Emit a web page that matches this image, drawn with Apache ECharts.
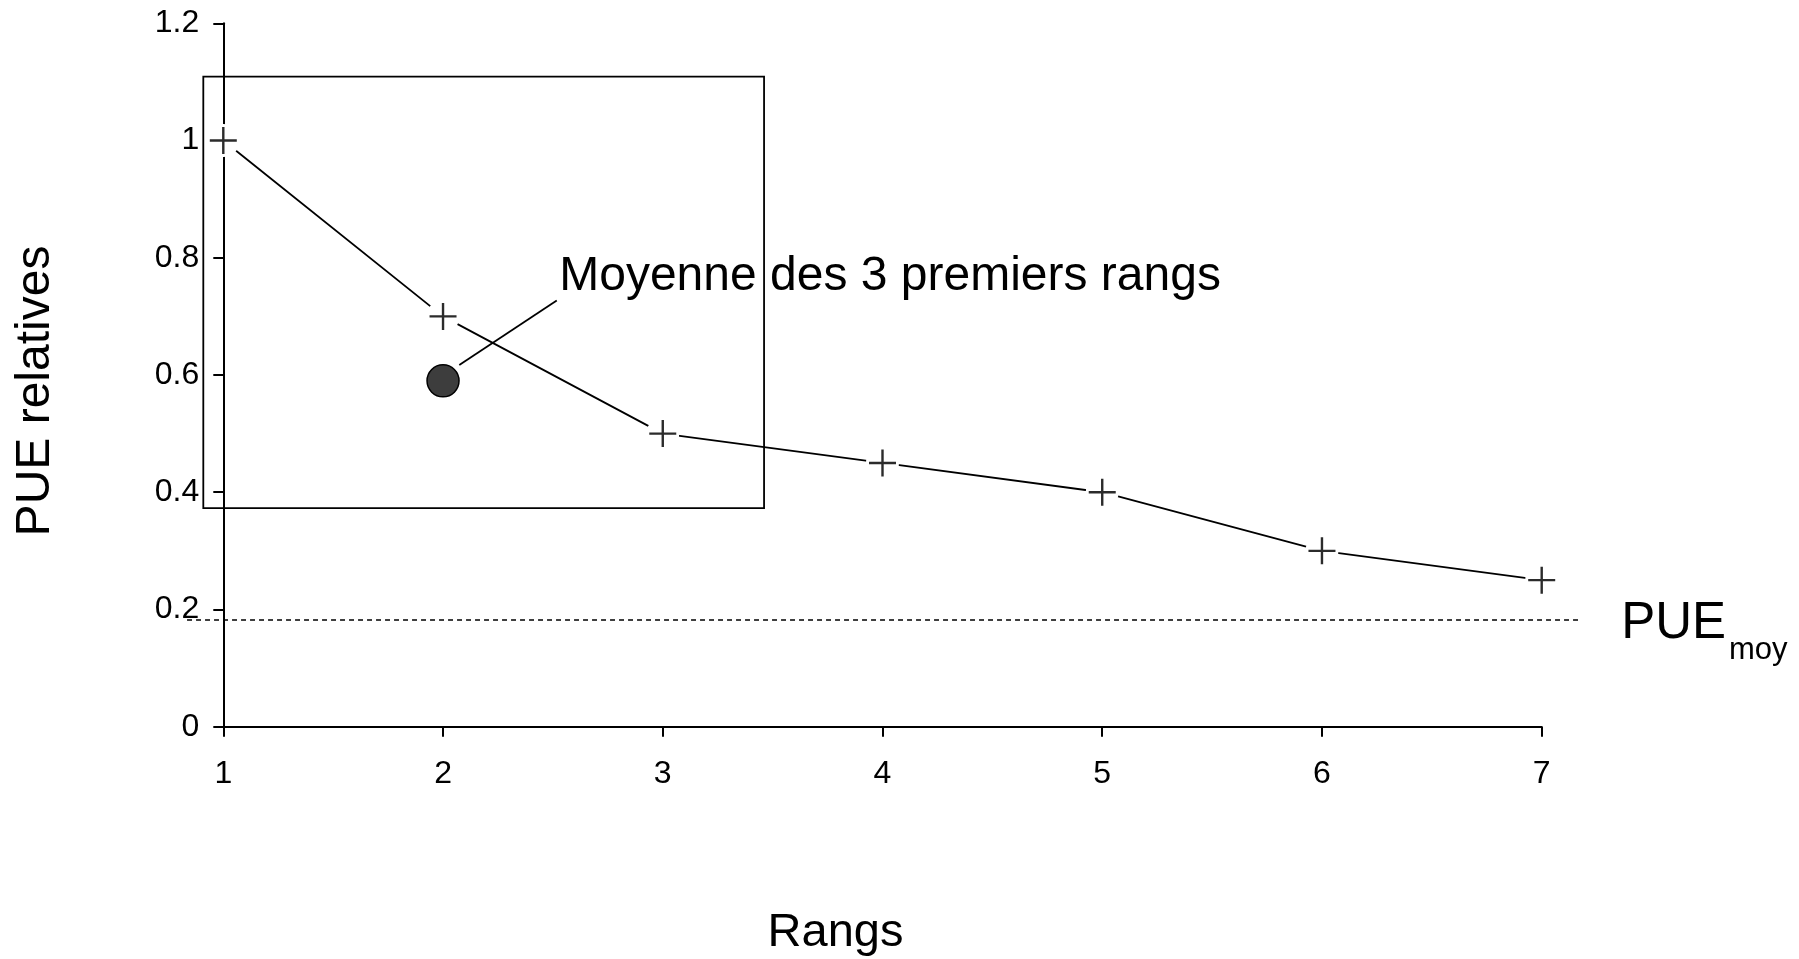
<!DOCTYPE html>
<html>
<head>
<meta charset="utf-8">
<script src="https://cdn.jsdelivr.net/npm/echarts@6/dist/echarts.min.js"></script>
<style>
  html, body { margin: 0; padding: 0; background: #ffffff; }
  #chart { width: 1799px; height: 959px; }
</style>
</head>
<body>
<div id="chart"></div>
<script>
// Rangs (axe X) et PUE relatives (axe Y)
const rangs = [1, 2, 3, 4, 5, 6, 7];
const pueRelatives = [1.0, 0.70, 0.50, 0.45, 0.40, 0.30, 0.25];
const yTickLabels = ['0', '0.2', '0.4', '0.6', '0.8', '1', '1.2'];

// Niveau moyen (ligne pointillée) et son étendue en rangs
const pueMoy = 0.182;
const pueMoyEtendue = [0.835, 7.175];

// Point "Moyenne des 3 premiers rangs"
const moyenne3 = [2, 0.59];
const moyenne3Texte = 'Moyenne des 3 premiers rangs';
const renvoi = [[2.074, 0.617], [2.5175, 0.727]];

// Encadré autour des 3 premiers rangs (en unités des axes)
const encadreX = [0.909, 3.461];
const encadreY = [0.373, 1.109];

const FONT = "'Liberation Sans', Arial, Helvetica, sans-serif";
const points = rangs.map((r, i) => [r, pueRelatives[i]]);
const plusPath = 'path://M0,-1L0,1M-1,0L1,0';

// Conversion données -> pixels, prolongée linéairement hors des bornes des axes
function toPx(api, x, y) {
  const a = api.coord([1, 0]);
  const b = api.coord([7, 1.2]);
  return [
    a[0] + (x - 1) / 6 * (b[0] - a[0]),
    a[1] + y / 1.2 * (b[1] - a[1])
  ];
}

const chart = echarts.init(document.getElementById('chart'), null, { renderer: 'canvas' });

chart.setOption({
  animation: false,
  backgroundColor: '#ffffff',
  textStyle: { fontFamily: FONT, color: '#000' },
  grid: { left: 223.3, right: 257.3, top: 23.3, bottom: 232.3, containLabel: false },
  xAxis: {
    type: 'value', min: 1, max: 7, interval: 1,
    axisLine: { show: true, lineStyle: { color: '#000', width: 2 } },
    axisTick: { show: true, length: 10, lineStyle: { color: '#000', width: 2 } },
    axisLabel: { fontSize: 32, color: '#000', margin: 31, fontFamily: FONT },
    splitLine: { show: false }
  },
  yAxis: {
    type: 'value', min: 0, max: 1.2, interval: 0.2,
    axisLine: { show: true, onZero: false, lineStyle: { color: '#000', width: 2 } },
    axisTick: { show: true, length: 10, lineStyle: { color: '#000', width: 2 } },
    axisLabel: {
      fontSize: 32, color: '#000', margin: 24, fontFamily: FONT,
      formatter: (v) => yTickLabels[Math.round(v / 0.2)]
    },
    splitLine: { show: false }
  },
  graphic: [
    {
      type: 'text', x: 835.5, y: 933, z: 10,
      style: { text: 'Rangs', fontSize: 47, fontFamily: FONT, fill: '#000', textAlign: 'center', textVerticalAlign: 'middle' }
    },
    {
      type: 'text', x: 35.7, y: 391, rotation: Math.PI / 2, z: 10,
      style: { text: 'PUE relatives', fontSize: 48, fontFamily: FONT, fill: '#000', textAlign: 'center', textVerticalAlign: 'middle' }
    }
  ],
  series: [
    {
      // encadré
      type: 'custom', silent: true, clip: false, z: 1,
      data: [[1, 0]],
      renderItem: (params, api) => {
        const p0 = toPx(api, encadreX[0], encadreY[1]);
        const p1 = toPx(api, encadreX[1], encadreY[0]);
        return {
          type: 'rect',
          shape: { x: p0[0], y: p0[1], width: p1[0] - p0[0], height: p1[1] - p0[1] },
          style: { fill: 'none', stroke: '#000', lineWidth: 1.8 }
        };
      }
    },
    {
      // PUE moyenne (pointillés) et son étiquette
      type: 'custom', silent: true, clip: false, z: 1,
      data: [[1, 0]],
      renderItem: (params, api) => {
        const p0 = toPx(api, pueMoyEtendue[0], pueMoy);
        const p1 = toPx(api, pueMoyEtendue[1], pueMoy);
        return {
          type: 'group',
          children: [
            {
              type: 'line',
              shape: { x1: p0[0], y1: p0[1], x2: p1[0], y2: p1[1] },
              style: { stroke: '#000', lineWidth: 1.5, lineDash: [5, 4] }
            },
            {
              type: 'text',
              x: p1[0] + 41, y: p1[1] + 4,
              style: {
                text: '{a|PUE}{b|moy}',
                align: 'left', verticalAlign: 'middle',
                rich: {
                  a: { fontSize: 51, fontFamily: FONT, fill: '#000', lineHeight: 55 },
                  b: { fontSize: 31, fontFamily: FONT, fill: '#000', lineHeight: 31, padding: [52, 0, 0, 3] }
                }
              }
            }
          ]
        };
      }
    },
    {
      // courbe des PUE relatives
      type: 'line', silent: true, clip: false, symbol: 'none', z: 2,
      lineStyle: { color: '#000', width: 1.8 },
      data: points
    },
    {
      // dégagement blanc autour des marqueurs
      type: 'scatter', silent: true, clip: false, z: 3,
      symbol: 'circle', symbolSize: 33,
      itemStyle: { color: '#ffffff', borderWidth: 0, opacity: 1 },
      data: points
    },
    {
      // marqueurs +
      type: 'scatter', silent: true, clip: false, z: 4,
      symbol: plusPath, symbolSize: 27, symbolKeepAspect: true,
      itemStyle: { color: 'transparent', borderColor: '#2b2b2b', borderWidth: 2.4, opacity: 1 },
      data: points
    },
    {
      // trait de renvoi et texte
      type: 'custom', silent: true, clip: false, z: 5,
      data: [[1, 0]],
      renderItem: (params, api) => {
        const p0 = toPx(api, renvoi[0][0], renvoi[0][1]);
        const p1 = toPx(api, renvoi[1][0], renvoi[1][1]);
        return {
          type: 'group',
          children: [
            {
              type: 'line',
              shape: { x1: p0[0], y1: p0[1], x2: p1[0], y2: p1[1] },
              style: { stroke: '#000', lineWidth: 1.8 }
            },
            {
              type: 'text',
              x: p1[0] + 2.5, y: p1[1] - 24,
              style: {
                text: moyenne3Texte, fontSize: 48, fontFamily: FONT, fill: '#000',
                align: 'left', verticalAlign: 'middle'
              }
            }
          ]
        };
      }
    },
    {
      // moyenne des 3 premiers rangs
      type: 'scatter', silent: true, clip: false, z: 6,
      symbol: 'circle', symbolSize: 32,
      itemStyle: { color: '#3d3d3d', borderColor: '#000', borderWidth: 1.5, opacity: 1 },
      data: [moyenne3]
    }
  ]
});
</script>
</body>
</html>
